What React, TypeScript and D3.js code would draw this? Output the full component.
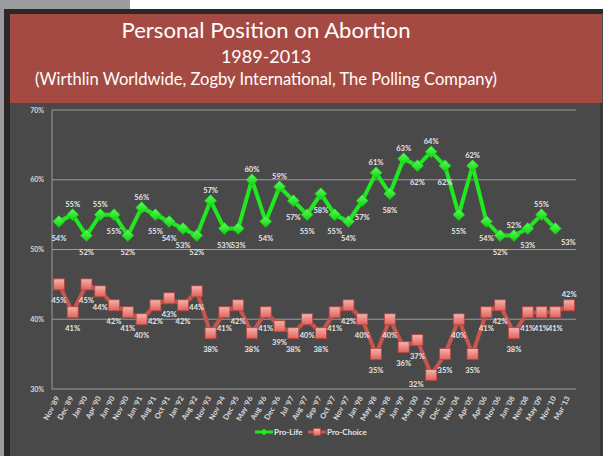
import React from 'react';
import * as d3 from 'd3';

// survey dates (x categories)
const dates = [
  "Nov '89", "Dec '89", "Jan '90", "Apr '90", "Jun '90", "Nov '90", "Jun '91", "Aug '91",
  "Oct '91", "Jan '92", "Aug '92", "Nov '93", "Nov '94", "Dec '95", "May '96", "Aug '96",
  "Dec '96", "Jul '97", "Aug '97", "Sep '97", "Oct '97", "Nov '97", "Jan '98", "May '98",
  "Sep '98", "Jun '99", "May '00", "Jan '01", "Dec '02", "Nov '04", "Apr '05", "Apr '06",
  "Nov '06", "Jun '08", "Nov '08", "May '09", "Nov '10", "Mar '13",
];

const proLife: (number | null)[] = [
  54, 55, 52, 55, 55, 52, 56, 55, 54, 53, 52, 57, 53, 53, 60, 54, 59, 57, 55,
  58, 55, 54, 57, 61, 58, 63, 62, 64, 62, 55, 62, 54, 52, 52, 53, 55, 53, null,
];

const proChoice: number[] = [
  45, 41, 45, 44, 42, 41, 40, 42, 43, 42, 44, 38, 41, 42, 38, 41, 39, 38, 40,
  38, 41, 42, 40, 35, 40, 36, 37, 32, 35, 40, 35, 41, 42, 38, 41, 41, 41, 42,
];

// label placement: a = above, b = below, r = below right, l = below left
const proLifeLabelPos = [
  'b', 'a', 'b', 'a', 'b', 'b', 'a', 'b', 'b', 'b', 'b', 'a', 'b', 'b', 'a', 'b', 'a', 'b', 'b',
  'b', 'b', 'b', 'b', 'a', 'b', 'a', 'b', 'a', 'b', 'b', 'a', 'b', 'b', 'a', 'b', 'a', 'r', 'b',
];
const proChoiceLabelPos = [
  'b', 'b', 'b', 'b', 'b', 'b', 'b', 'b', 'b', 'b', 'b', 'b', 'b', 'b', 'b', 'b', 'b', 'b', 'b',
  'b', 'b', 'b', 'b', 'b', 'b', 'b', 'b', 'l', 'b', 'b', 'b', 'b', 'b', 'b', 'b', 'b', 'b', 'a',
];

const yTicks = [30, 40, 50, 60, 70];

const W = 603;
const H = 456;
const plot = { left: 52, right: 576, top: 110, bottom: 389 };

const labelOffset = (pos: string) => {
  if (pos === 'a') return [0, -11];
  if (pos === 'r') return [13, 13];
  if (pos === 'l') return [-15, 9];
  return [0, 16];
};

export default function App() {
  const x = d3.scalePoint<string>().domain(dates).range([plot.left, plot.right]).padding(0.5);
  const y = d3.scaleLinear().domain([30, 70]).range([plot.bottom, plot.top]);

  const plLine = d3.line<number | null>()
    .defined(d => d != null)
    .x((_, i) => x(dates[i])!)
    .y(d => y(d as number));
  const pcLine = d3.line<number>()
    .x((_, i) => x(dates[i])!)
    .y(d => y(d));

  const labelStyle: React.CSSProperties = {
    fontFamily: 'Lato, "Open Sans", sans-serif',
    fontWeight: 700,
    fontSize: '7.5px',
    fill: '#e6e6e6',
  };

  return (
    <svg width={W} height={H} style={{ position: 'fixed', left: 0, top: 0, display: 'block' }}>
      <defs>
        <linearGradient id="sq" x1="0" y1="0" x2="0" y2="1">
          <stop offset="0%" stopColor="#f6b3ad" />
          <stop offset="100%" stopColor="#e2605a" />
        </linearGradient>
        <linearGradient id="dm" x1="0" y1="0" x2="0" y2="1">
          <stop offset="0%" stopColor="#5cff5c" />
          <stop offset="100%" stopColor="#10d010" />
        </linearGradient>
      </defs>

      {/* slide background */}
      <rect x={0} y={0} width={W} height={H} fill="#9c9c9e" />
      <rect x={130} y={0} width={W - 130} height={10} fill="#ffffff" />
      <rect x={4} y={9} width={W - 4} height={H - 9} fill="#2a2828" />
      <rect x={10} y={14} width={W - 10} height={H - 14} fill="#4a4949" />
      <rect x={600} y={103} width={3} height={H - 103} fill="#3a3939" />

      {/* title box */}
      <rect x={10} y={14} width={592} height={89} fill="#a54a42" />
      <g fill="#ffffff" textAnchor="middle" style={{ fontFamily: 'Lato, "Open Sans", sans-serif' }}>
        <text x={266} y={38} fontSize={22} textLength={289} lengthAdjust="spacingAndGlyphs">Personal Position on Abortion</text>
        <text x={266} y={63} fontSize={18}>1989-2013</text>
        <text x={266} y={85} fontSize={18} textLength={462} lengthAdjust="spacingAndGlyphs">(Wirthlin Worldwide, Zogby International, The Polling Company)</text>
      </g>

      {/* grid */}
      {yTicks.map(t => (
        <g key={t}>
          <line x1={plot.left} x2={plot.right} y1={y(t)} y2={y(t)} stroke="#9a9a9a" strokeWidth={1} />
          <text x={44} y={y(t) + 2.5} textAnchor="end" style={{ ...labelStyle, fontSize: '7px', fill: '#d8d8d8' }}>{t}%</text>
        </g>
      ))}
      <line x1={plot.left} x2={plot.left} y1={plot.top} y2={plot.bottom} stroke="#9a9a9a" strokeWidth={1} />

      {/* x labels */}
      {dates.map(d => (
        <text
          key={d}
          transform={`translate(${x(d)! + 1},${plot.bottom + 9}) rotate(-62)`}
          textAnchor="end"
          style={{ ...labelStyle, fontSize: '7.5px', fill: '#dcdcdc' }}
        >{d}</text>
      ))}

      {/* pro-choice series */}
      <path d={pcLine(proChoice) || ''} fill="none" stroke="#c9554f" strokeWidth={4} strokeLinejoin="round" />
      {proChoice.map((v, i) => (
        <rect key={i} x={x(dates[i])! - 5.5} y={y(v) - 5.5} width={11} height={11}
          fill="url(#sq)" stroke="#b9443f" strokeWidth={0.8} />
      ))}

      {/* pro-life series */}
      <path d={plLine(proLife) || ''} fill="none" stroke="#1eea1e" strokeWidth={4} strokeLinejoin="round" />
      {proLife.map((v, i) => v == null ? null : (
        <path key={i} d="M0,-6L6,0L0,6L-6,0Z" transform={`translate(${x(dates[i])},${y(v)})`}
          fill="url(#dm)" stroke="#12c012" strokeWidth={0.6} />
      ))}

      {/* data labels */}
      {proLife.map((v, i) => {
        if (v == null) return null;
        const [dx, dy] = labelOffset(proLifeLabelPos[i]);
        return <text key={'pl' + i} x={x(dates[i])! + dx} y={y(v) + dy + 3} textAnchor="middle" style={labelStyle}>{v}%</text>;
      })}
      {proChoice.map((v, i) => {
        const [dx, dy] = labelOffset(proChoiceLabelPos[i]);
        return <text key={'pc' + i} x={x(dates[i])! + dx} y={y(v) + dy + 3} textAnchor="middle" style={labelStyle}>{v}%</text>;
      })}

      {/* legend */}
      <g transform="translate(255,432)">
        <line x1={0} x2={18} y1={0} y2={0} stroke="#1eea1e" strokeWidth={3} />
        <path d="M0,-3.5L3.5,0L0,3.5L-3.5,0Z" transform="translate(9,0)" fill="#1eea1e" />
        <text x={19} y={3} style={{ ...labelStyle, fontSize: '8px' }}>Pro-Life</text>
        <line x1={53} x2={71} y1={0} y2={0} stroke="#c9554f" strokeWidth={3} />
        <rect x={58.5} y={-3.5} width={7} height={7} fill="url(#sq)" stroke="#b9443f" strokeWidth={0.6} />
        <text x={72} y={3} style={{ ...labelStyle, fontSize: '8px' }}>Pro-Choice</text>
      </g>
    </svg>
  );
}
